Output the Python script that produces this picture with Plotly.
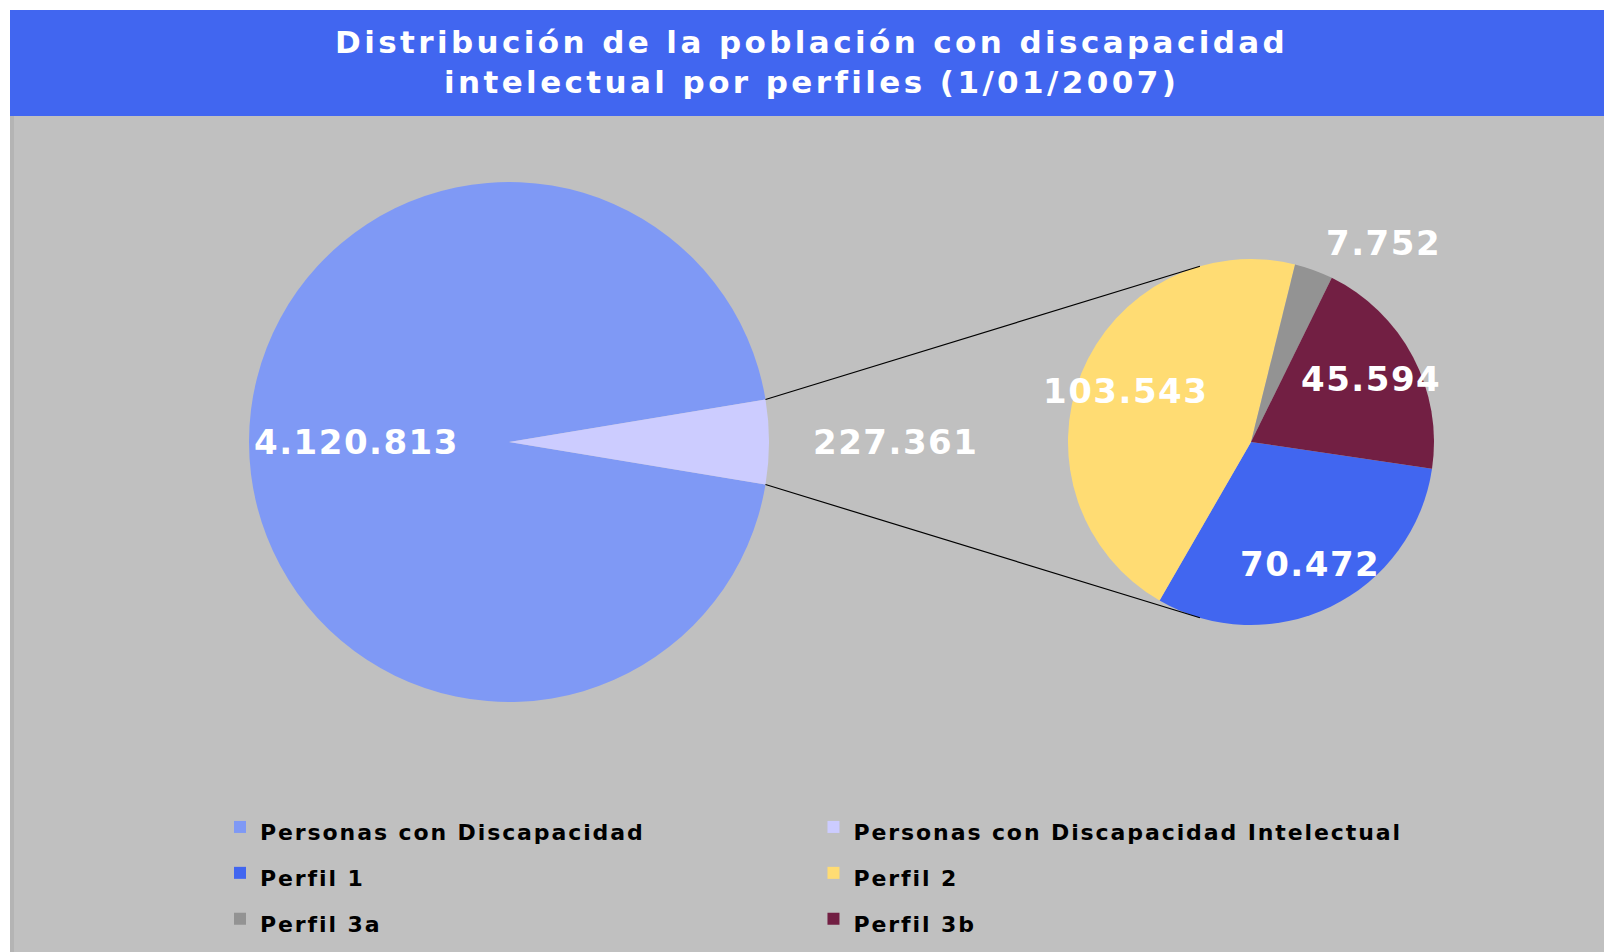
import math
import plotly.graph_objects as go

# ---------------- data ----------------
main_labels = ["Personas con Discapacidad", "Personas con Discapacidad Intelectual"]
main_values = [4120813, 227361]
profile_labels = ["Perfil 1", "Perfil 2", "Perfil 3a", "Perfil 3b"]
profile_values = [70472, 103543, 7752, 45594]

title_lines = ["Distribución de la población con discapacidad",
               "intelectual por perfiles (1/01/2007)"]

# label placement per slice: "in" = inside, "out" = outside
main_label_pos = ["in", "out"]
profile_label_pos = ["in", "in", "out", "in"]

# ---------------- style ----------------
W, H = 1612, 952
OFF = 8  # page body margin compensation
FONT = "Verdana, DejaVu Sans, sans-serif"
main_colors = ["#7F99F5", "#CCCCFF"]
profile_colors = ["#4166F0", "#FFDC73", "#939393", "#721F43"]
BAND = "#4166F0"
GRAY = "#C0C0C0"

BIG_C, BIG_R = (509, 442), 260
SMALL_C, SMALL_R = (1251, 442), 183
SMALL_ROT = 98.4
CONNECT_ANGLE = 16.2
LEGEND_TXT = 22
BIG_IN_K, SMALL_IN_K, OUT_K = 0.585, 0.74, 1.16


def px(x):
    return (x - OFF) / W


def py(y):
    return 1 - (y - OFF) / H


def dom(c, r):
    return dict(x=[px(c[0] - r), px(c[0] + r)],
                y=[py(c[1] + r), py(c[1] - r)])


def polar(c, r, ang):
    a = math.radians(ang)
    return c[0] + r * math.sin(a), c[1] - r * math.cos(a)


def pt(c, r, ang):
    x, y = polar(c, r, ang)
    return px(x), py(y)


def spaced(s, ls, size=None):
    st = f"letter-spacing:{ls}px"
    if size:
        st += f";font-size:{size}px"
    return f'<span style="{st}">{s}</span>'


def fmt(v):
    return f"{v:,}".replace(",", ".")


frac = main_values[1] / sum(main_values)
big_rot = 90 + 180 * frac

fig = go.Figure()
fig.add_trace(go.Pie(
    labels=[spaced(n, 1.9, LEGEND_TXT) for n in main_labels], values=main_values, sort=False,
    direction="clockwise", rotation=big_rot, domain=dom(BIG_C, BIG_R),
    marker=dict(colors=main_colors, line=dict(width=0)),
    textinfo="none", hoverinfo="value", showlegend=True,
))
fig.add_trace(go.Pie(
    labels=[spaced(n, 1.9, LEGEND_TXT) for n in profile_labels], values=profile_values, sort=False,
    direction="clockwise", rotation=SMALL_ROT, domain=dom(SMALL_C, SMALL_R),
    marker=dict(colors=profile_colors, line=dict(width=0)),
    textinfo="none", hoverinfo="value", showlegend=True,
))

shapes = [
    dict(type="rect", xref="paper", yref="paper", x0=px(10), x1=1, y0=0, y1=py(116),
         fillcolor=GRAY, line=dict(width=0), layer="below"),
    dict(type="rect", xref="paper", yref="paper", x0=px(10), x1=px(14), y0=0, y1=py(116),
         fillcolor="#B4B4B4", line=dict(width=0), layer="below"),
    dict(type="rect", xref="paper", yref="paper", x0=px(10), x1=1, y0=py(116), y1=py(10),
         fillcolor=BAND, line=dict(width=0), layer="below"),
]
# connector lines between the two pies
b0 = pt(BIG_C, BIG_R, 90 - 180 * frac)
b1 = pt(BIG_C, BIG_R, 90 + 180 * frac)
s0 = pt(SMALL_C, SMALL_R, 360 - CONNECT_ANGLE)
s1 = pt(SMALL_C, SMALL_R, 180 + CONNECT_ANGLE)
for a, b in [(b0, s0), (b1, s1)]:
    shapes.append(dict(type="line", xref="paper", yref="paper", x0=a[0], y0=a[1], x1=b[0], y1=b[1],
                       line=dict(color="black", width=1.2)))

annotations = [dict(text="<br>".join(spaced(t, 3.4) for t in title_lines),
                    xref="paper", yref="paper", x=px(811), y=py(62),
                    xanchor="center", yanchor="middle", showarrow=False,
                    font=dict(family=FONT, size=31, color="white", weight="bold"))]


def slice_labels(values, positions, center, radius, rot, in_k):
    total = sum(values)
    start = rot
    for v, pos in zip(values, positions):
        span = 360 * v / total
        mid = start + span / 2
        start += span
        if pos == "in":
            x, y = polar(center, radius * in_k, mid)
            xa = "center"
        else:
            x, y = polar(center, radius * OUT_K, mid)
            xa = "left" if math.sin(math.radians(mid)) >= 0 else "right"
        annotations.append(dict(text=spaced(fmt(v), 1.5), xref="paper", yref="paper",
                                x=px(x), y=py(y), xanchor=xa, yanchor="middle",
                                showarrow=False,
                                font=dict(family=FONT, size=34, color="white", weight="bold")))


slice_labels(main_values, main_label_pos, BIG_C, BIG_R, big_rot, BIG_IN_K)
slice_labels(profile_values, profile_label_pos, SMALL_C, SMALL_R, SMALL_ROT, SMALL_IN_K)

fig.update_layout(
    width=W, height=H, autosize=False,
    margin=dict(l=0, r=0, t=0, b=0),
    paper_bgcolor="white", plot_bgcolor="white",
    shapes=shapes,
    annotations=annotations,
    legend=dict(orientation="h", x=px(220), xanchor="left", y=py(799), yanchor="top",
                bgcolor="rgba(0,0,0,0)",
                font=dict(family=FONT, size=33, color="black", weight="bold")),
)

fig.write_html("out.html")
